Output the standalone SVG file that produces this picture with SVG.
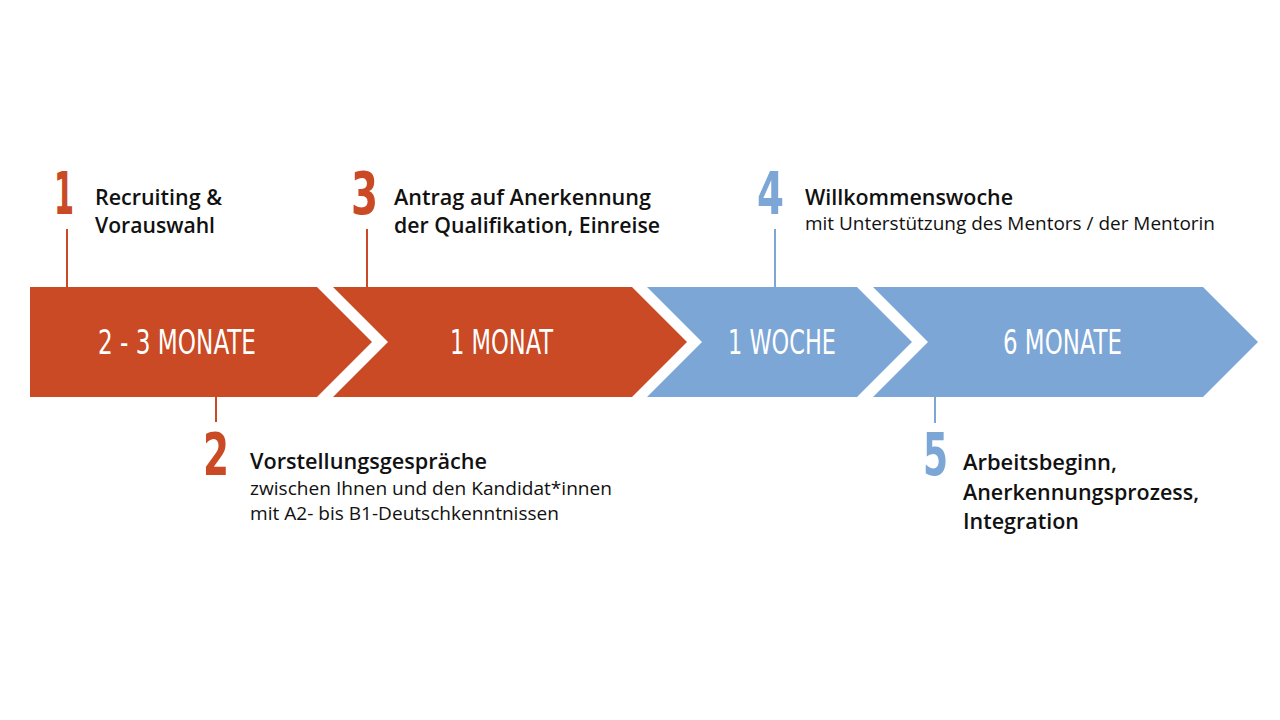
<svg xmlns="http://www.w3.org/2000/svg" width="1280" height="720" viewBox="0 0 1280 720">
  <style>
    .red { fill: #C94A24; }
    .blue { fill: #7BA6D5; }
    .lr { stroke: #C94A24; stroke-width: 2; fill: none; }
    .lb { stroke: #7BA6D5; stroke-width: 2; fill: none; }
    .band { font-family: "Liberation Sans Narrow", "DejaVu Sans Condensed", "Liberation Sans", sans-serif; font-size: 34px; fill: #ffffff; text-anchor: start; }
    .num { font-family: "Liberation Sans Narrow", "DejaVu Sans Condensed", "Liberation Sans", sans-serif; font-size: 58px; font-weight: bold; }
    .numr { fill: #C94A24; }
    .numb { fill: #7BA6D5; }
    .h { font-family: "Open Sans", "Noto Sans", "Liberation Sans", sans-serif; font-size: 22px; font-weight: 600; fill: #111111; }
    .s { font-family: "Open Sans", "Noto Sans", "Liberation Sans", sans-serif; font-size: 18px; font-weight: 400; fill: #111111; }
  </style>
  <rect x="0" y="0" width="1280" height="720" fill="#ffffff"/>

  <g id="connectors">
    <line class="lr" x1="67" y1="229" x2="67" y2="288"/>
    <line class="lr" x1="367" y1="229" x2="367" y2="288"/>
    <line class="lb" x1="775" y1="229" x2="775" y2="288"/>
    <line class="lr" x1="216" y1="396" x2="216" y2="422"/>
    <line class="lb" x1="935" y1="396" x2="935" y2="423"/>
  </g>

  <g id="segment1">
    <polygon class="red" points="30,287 317,287 372,342 317,397 30,397"/>
    <text class="band" x="98" y="354" textLength="158" lengthAdjust="spacingAndGlyphs">2 - 3 MONATE</text>
  </g>
  <g id="segment2">
    <polygon class="red" points="333,287 632,287 687,342 632,397 333,397 388,342"/>
    <text class="band" x="450" y="354" textLength="103" lengthAdjust="spacingAndGlyphs">1 MONAT</text>
  </g>
  <g id="segment3">
    <polygon class="blue" points="647,287 857,287 912,342 857,397 647,397 702,342"/>
    <text class="band" x="728" y="354" textLength="108" lengthAdjust="spacingAndGlyphs">1 WOCHE</text>
  </g>
  <g id="segment4">
    <polygon class="blue" points="873,287 1203,287 1258,342 1203,397 873,397 928,342"/>
    <text class="band" x="1003" y="354" textLength="119" lengthAdjust="spacingAndGlyphs">6 MONATE</text>
  </g>

  <g id="step1">
    <text class="num numr" x="54" y="214" textLength="20" lengthAdjust="spacingAndGlyphs">1</text>
    <text class="h" x="95" y="205" textLength="127" lengthAdjust="spacingAndGlyphs">Recruiting &amp;</text>
    <text class="h" x="95" y="233" textLength="120" lengthAdjust="spacingAndGlyphs">Vorauswahl</text>
  </g>
  <g id="step2">
    <text class="num numr" x="203" y="475" textLength="26" lengthAdjust="spacingAndGlyphs">2</text>
    <text class="h" x="250" y="469" textLength="237" lengthAdjust="spacingAndGlyphs">Vorstellungsgespräche</text>
    <text class="s" x="250" y="495" textLength="362" lengthAdjust="spacingAndGlyphs">zwischen Ihnen und den Kandidat*innen</text>
    <text class="s" x="250" y="520" textLength="309" lengthAdjust="spacingAndGlyphs">mit A2- bis B1-Deutschkenntnissen</text>
  </g>
  <g id="step3">
    <text class="num numr" x="351" y="214" textLength="27" lengthAdjust="spacingAndGlyphs">3</text>
    <text class="h" x="394" y="205" textLength="257" lengthAdjust="spacingAndGlyphs">Antrag auf Anerkennung</text>
    <text class="h" x="394" y="233" textLength="266" lengthAdjust="spacingAndGlyphs">der Qualifikation, Einreise</text>
  </g>
  <g id="step4">
    <text class="num numb" x="757" y="214" textLength="27" lengthAdjust="spacingAndGlyphs">4</text>
    <text class="h" x="805" y="205" textLength="208" lengthAdjust="spacingAndGlyphs">Willkommenswoche</text>
    <text class="s" x="805" y="230" textLength="410" lengthAdjust="spacingAndGlyphs">mit Unterstützung des Mentors / der Mentorin</text>
  </g>
  <g id="step5">
    <text class="num numb" x="923" y="475" textLength="25" lengthAdjust="spacingAndGlyphs">5</text>
    <text class="h" x="963" y="470" textLength="154" lengthAdjust="spacingAndGlyphs">Arbeitsbeginn,</text>
    <text class="h" x="963" y="500" textLength="236" lengthAdjust="spacingAndGlyphs">Anerkennungsprozess,</text>
    <text class="h" x="963" y="529" textLength="116" lengthAdjust="spacingAndGlyphs">Integration</text>
  </g>
</svg>
